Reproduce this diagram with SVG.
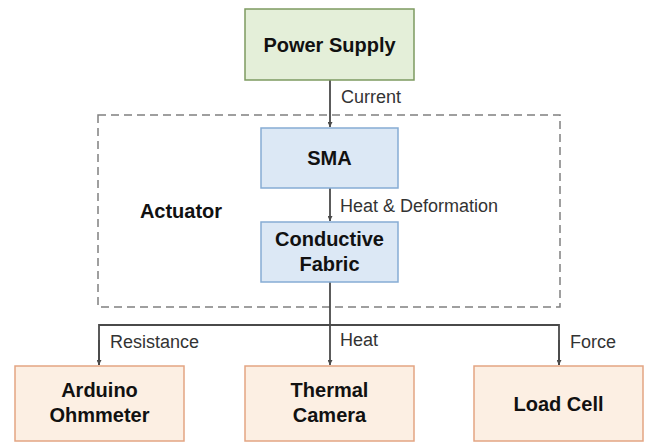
<svg xmlns="http://www.w3.org/2000/svg" width="649" height="445" viewBox="0 0 649 445">
<defs>
<style>
.bold{font-family:"Liberation Sans",Arial,sans-serif;font-weight:bold;font-size:20px;fill:#111;text-anchor:middle}
.lbl{font-family:"Liberation Sans",Arial,sans-serif;font-size:18px;fill:#333}
.green{fill:#e4efd9;stroke:#7d9a60;stroke-width:1.5}
.blue{fill:#dce8f5;stroke:#86acd4;stroke-width:1.5}
.orange{fill:#fcefe3;stroke:#e3a583;stroke-width:1.5}
.conn{fill:none;stroke:#4a4a4a;stroke-width:1.8}
</style>
<marker id="arr" viewBox="0 0 10 10" refX="10" refY="5" markerWidth="5" markerHeight="5" orient="auto" markerUnits="userSpaceOnUse">
<path d="M0,0 L10,5 L0,10 z" fill="#4a4a4a"/>
</marker>
</defs>
<rect width="649" height="445" fill="#fff"/>
<g id="actuator">
<rect x="98" y="115" width="462" height="192" fill="none" stroke="#808080" stroke-width="1.5" stroke-dasharray="8 5"/>
<text class="bold" x="181" y="218">Actuator</text>
</g>
<g id="connectors">
<line class="conn" x1="330" y1="80" x2="330" y2="127" marker-end="url(#arr)"/>
<line class="conn" x1="330" y1="188" x2="330" y2="221" marker-end="url(#arr)"/>
<polyline class="conn" points="330,282 330,325"/>
<polyline class="conn" points="99,365 99,325 559,325 559,365" stroke-linejoin="miter"/>
<line class="conn" x1="330" y1="325" x2="330" y2="365" marker-end="url(#arr)"/>
<line class="conn" x1="99" y1="340" x2="99" y2="365" marker-end="url(#arr)"/>
<line class="conn" x1="559" y1="340" x2="559" y2="365" marker-end="url(#arr)"/>
<text class="lbl" x="341" y="103">Current</text>
<text class="lbl" x="340" y="212">Heat &amp; Deformation</text>
<text class="lbl" x="110" y="348">Resistance</text>
<text class="lbl" x="340" y="346">Heat</text>
<text class="lbl" x="570" y="348">Force</text>
</g>
<g id="power-supply">
<rect class="green" x="245" y="9" width="169" height="71"/>
<text class="bold" x="329.5" y="52">Power Supply</text>
</g>
<g id="sma">
<rect class="blue" x="261" y="128" width="137" height="60"/>
<text class="bold" x="329.5" y="165">SMA</text>
</g>
<g id="conductive-fabric">
<rect class="blue" x="261" y="222" width="137" height="60"/>
<text class="bold" x="329.5" y="246">Conductive</text>
<text class="bold" x="329.5" y="271">Fabric</text>
</g>
<g id="arduino-ohmmeter">
<rect class="orange" x="15" y="366" width="169" height="75"/>
<text class="bold" x="99.5" y="397">Arduino</text>
<text class="bold" x="99.5" y="422">Ohmmeter</text>
</g>
<g id="thermal-camera">
<rect class="orange" x="245" y="366" width="169" height="75"/>
<text class="bold" x="329.5" y="397">Thermal</text>
<text class="bold" x="329.5" y="422">Camera</text>
</g>
<g id="load-cell">
<rect class="orange" x="474" y="366" width="169" height="75"/>
<text class="bold" x="558.5" y="411">Load Cell</text>
</g>
</svg>
